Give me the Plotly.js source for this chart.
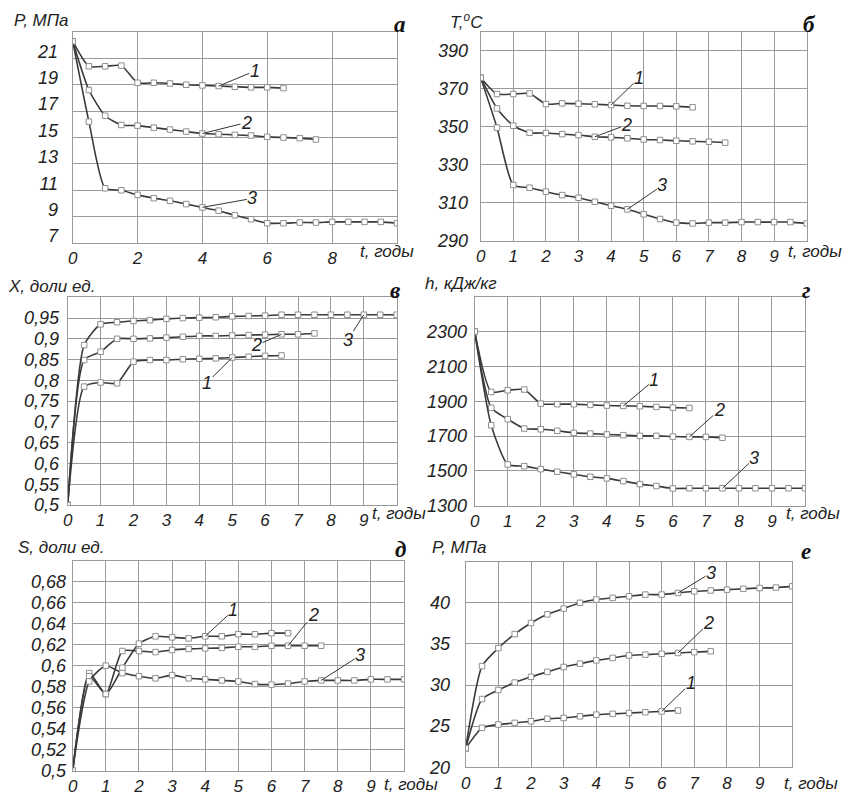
<!DOCTYPE html>
<html>
<head>
<meta charset="utf-8">
<script src="https://cdn.plot.ly/plotly-3.0.1.min.js"></script>
<style>html,body{margin:0;padding:0;background:#fff}#chart{width:848px;height:796px}</style>
</head>
<body>
<div id="chart"></div>
<script>
// ---- time axis (years) ----
const T = [0,0.5,1,1.5,2,2.5,3,3.5,4,4.5,5,5.5,6,6.5,7,7.5,8,8.5,9,9.5,10];

// ---- panel а : P, MPa ----
const a_P1 = [22.3,20.4,20.4,20.45,19.15,19.15,19.1,19.0,18.95,18.9,18.85,18.8,18.8,18.75];
const a_P2 = [22.3,18.6,16.65,15.95,15.9,15.75,15.6,15.45,15.3,15.25,15.2,15.15,15.05,15.0,14.95,14.85];
const a_P3 = [22.3,16.2,11.15,11.0,10.65,10.4,10.2,9.95,9.7,9.45,9.1,8.8,8.5,8.5,8.55,8.55,8.6,8.6,8.6,8.6,8.5];

// ---- panel б : T, °C ----
const b_T1 = [375.8,367.2,367.2,367.5,361.9,362.3,362.1,361.8,361.4,361.0,360.9,360.9,360.7,360.2];
const b_T2 = [375.8,359.6,350.5,346.8,346.7,346.1,345.6,344.7,344.4,343.9,343.3,343.0,342.6,342.3,342.1,341.6];
const b_T3 = [375.8,349.5,319.3,317.9,315.8,314.0,312.6,310.5,308.4,306.5,303.9,301.4,299.5,299.1,299.5,299.5,299.8,299.8,299.8,299.8,299.1];

// ---- panel в : X, fraction ----
const c_X1 = [0.5,0.785,0.795,0.793,0.845,0.849,0.849,0.851,0.852,0.853,0.855,0.857,0.859,0.86];
const c_X2 = [0.5,0.849,0.869,0.9,0.9,0.901,0.903,0.905,0.907,0.907,0.908,0.909,0.91,0.911,0.911,0.913];
const c_X3 = [0.5,0.885,0.935,0.94,0.943,0.945,0.948,0.95,0.951,0.952,0.954,0.955,0.956,0.958,0.958,0.958,0.958,0.958,0.958,0.958,0.958];

// ---- panel г : h, kJ/kg ----
const d_H1 = [2300,1953,1963,1967,1886,1883,1883,1879,1875,1873,1871,1867,1863,1861];
const d_H2 = [2300,1862,1797,1743,1739,1730,1718,1714,1709,1705,1701,1701,1697,1695,1695,1690];
const d_H3 = [2300,1762,1537,1527,1510,1495,1480,1466,1457,1441,1424,1413,1399,1400,1400,1400,1400,1400,1400,1400,1400];

// ---- panel д : S, fraction ----
const e_S1 = [0.5,0.593,0.573,0.598,0.621,0.628,0.627,0.626,0.628,0.628,0.63,0.63,0.631,0.631];
const e_S2 = [0.5,0.59,0.573,0.614,0.614,0.613,0.615,0.616,0.6165,0.617,0.618,0.618,0.619,0.619,0.619,0.619];
const e_S3 = [0.5,0.585,0.6,0.593,0.59,0.588,0.591,0.588,0.587,0.586,0.585,0.5825,0.582,0.583,0.585,0.586,0.586,0.586,0.587,0.587,0.587];

// ---- panel е : P, MPa ----
const f_P1 = [22.3,24.8,25.2,25.4,25.6,25.9,26.0,26.2,26.4,26.5,26.6,26.7,26.8,26.9];
const f_P2 = [22.3,28.3,29.4,30.3,31.0,31.6,32.2,32.6,33.0,33.3,33.6,33.7,33.8,33.9,34.0,34.1];
const f_P3 = [22.3,32.3,34.5,36.2,37.55,38.6,39.3,40.0,40.4,40.6,40.8,41.0,41.0,41.2,41.4,41.5,41.6,41.7,41.8,41.85,42.0];

// ---- tick labels ----
const a_yt = [7,9,11,13,15,17,19,21];
const b_yt = [290,310,330,350,370,390];
const c_yt = [0.5,0.55,0.6,0.65,0.7,0.75,0.8,0.85,0.9,0.95];
const c_ytxt = ["0,5","0,55","0,6","0,65","0,7","0,75","0,8","0,85","0,9","0,95"];
const d_yt = [1300,1500,1700,1900,2100,2300];
const e_yt = [0.5,0.52,0.54,0.56,0.58,0.6,0.62,0.64,0.66,0.68];
const e_ytxt = ["0,5","0,52","0,54","0,56","0,58","0,6","0,62","0,64","0,66","0,68"];
const f_yt = [20,25,30,35,40];
const xt_a = [0,2,4,6,8];
const xt = [0,1,2,3,4,5,6,7,8,9];

const W = 848, H = 796;
const px = x => x / W;
const py = y => 1 - y / H;

const LINE = '#3a3a3a', GRID = '#9a9a9a';
const FAM = 'Liberation Sans, Arial, sans-serif';
const YTF = {family:FAM, size:18, color:'#222', style:'italic'};
const XTF = {family:FAM, size:17, color:'#222', style:'italic'};

function series(xa, ya, x, y) {
  return {
    type:'scatter', mode:'lines+markers', xaxis:xa, yaxis:ya,
    x:x, y:y,
    line:{color:LINE, width:1.6, shape:'spline', smoothing:0.6},
    marker:{symbol:'square', size:5.5, color:'#fff', line:{color:'#8f8f8f', width:1}},
    showlegend:false, hoverinfo:'skip'
  };
}

const data = [
  series('x','y',T.slice(0,a_P1.length),a_P1),
  series('x','y',T.slice(0,a_P2.length),a_P2),
  series('x','y',T.slice(0,a_P3.length),a_P3),
  series('x2','y2',T.slice(0,b_T1.length),b_T1),
  series('x2','y2',T.slice(0,b_T2.length),b_T2),
  series('x2','y2',T.slice(0,b_T3.length),b_T3),
  series('x3','y3',T.slice(0,c_X1.length),c_X1),
  series('x3','y3',T.slice(0,c_X2.length),c_X2),
  series('x3','y3',T.slice(0,c_X3.length),c_X3),
  series('x4','y4',T.slice(0,d_H1.length),d_H1),
  series('x4','y4',T.slice(0,d_H2.length),d_H2),
  series('x4','y4',T.slice(0,d_H3.length),d_H3),
  series('x5','y5',T.slice(0,e_S1.length),e_S1),
  series('x5','y5',T.slice(0,e_S2.length),e_S2),
  series('x5','y5',T.slice(0,e_S3.length),e_S3),
  series('x6','y6',T.slice(0,f_P1.length),f_P1),
  series('x6','y6',T.slice(0,f_P2.length),f_P2),
  series('x6','y6',T.slice(0,f_P3.length),f_P3)
];

function xax(box, anchor, tv) {
  return {domain:[px(box[0]), px(box[1])], anchor:anchor, range:[0,10],
    tickvals:tv, ticktext:tv.map(String), showgrid:true, gridcolor:GRID, gridwidth:1,
    showline:true, linecolor:GRID, linewidth:1, mirror:true, zeroline:false,
    ticks:'', tickfont:XTF, ticklabelstandoff:0, fixedrange:true, automargin:false};
}
function yax(box, anchor, range, tv, tt, standoff) {
  return {domain:[py(box[3]), py(box[2])], anchor:anchor, range:range,
    tickvals:tv, ticktext:tt || tv.map(String), showgrid:true, gridcolor:GRID, gridwidth:1,
    showline:true, linecolor:GRID, linewidth:1, mirror:true, zeroline:false,
    ticks:'', tickfont:YTF, ticklabelstandoff:standoff, fixedrange:true, automargin:false};
}

// plot boxes [left, right, top, bottom] in pixels
const boxA = [72.7, 397, 32, 243];
const boxB = [480.7, 806.7, 31.7, 240.7];
const boxC = [67.7, 396.7, 297.3, 505];
const boxD = [474.7, 805, 296.7, 505.7];
const boxE = [72.7, 404, 560.7, 770.7];
const boxF = [465.7, 792.3, 561.7, 767.3];

const AF = {family:FAM, size:17, color:'#222', style:'italic'};
const LF = {family:'Liberation Serif, DejaVu Serif, serif', size:23, color:'#111', style:'italic', weight:'bold'};
const NF = {family:FAM, size:18, color:'#222', style:'italic'};
const TT = {family:FAM, size:17, color:'#222', style:'italic'};

function txt(x, y, text, font, xanchor) {
  return {xref:'paper', yref:'paper', x:px(x), y:py(y), text:text, showarrow:false,
    font:font, xanchor:xanchor || 'left', yanchor:'middle'};
}
function lab(xr, yr, xv, yv, text, ax, ay) {
  return {xref:xr, yref:yr, x:xv, y:yv, text:text, showarrow:true, arrowhead:0,
    arrowwidth:1, arrowcolor:'#333', ax:ax, ay:ay, font:NF, standoff:0, borderpad:0};
}

const annotations = [
  // axis names
  txt(12, 21, 'P, МПа', AF),
  txt(448, 21, 'T,<sup>o</sup>C', AF),
  txt(6, 286, 'X, доли ед.', AF),
  txt(423, 283, 'h, кДж/кг', AF),
  txt(16, 547, 'S, доли ед.', AF),
  txt(430, 547, 'P, МПа', AF),
  txt(358, 252, 't, годы', TT),
  txt(786, 252, 't, годы', TT),
  txt(370, 513, 't, годы', TT),
  txt(784, 513, 't, годы', TT),
  txt(382, 784, 't, годы', TT),
  txt(782, 783, 't, годы', TT),
  // panel letters
  txt(400, 24, 'а', LF, 'center'),
  txt(809, 24, 'б', LF, 'center'),
  txt(395, 290, 'в', LF, 'center'),
  txt(806, 290, 'г', LF, 'center'),
  txt(400, 549, 'д', LF, 'center'),
  txt(806, 551, 'е', LF, 'center'),
  // curve numbers
  lab('x','y', T[9], a_P1[9], '1', 36, -15),
  lab('x','y', T[8], a_P2[8], '2', 44, -11),
  lab('x','y', T[8], a_P3[8], '3', 50, -9),
  lab('x2','y2', T[8], b_T1[8], '1', 28, -27),
  lab('x2','y2', T[7], b_T2[7], '2', 32, -12),
  lab('x2','y2', T[9], b_T3[9], '3', 35, -24),
  lab('x3','y3', T[10], c_X1[10], '1', -25, 25),
  lab('x3','y3', T[13], c_X2[13], '2', -25, 11),
  lab('x3','y3', T[18], c_X3[18], '3', -16, 25),
  lab('x4','y4', T[9], d_H1[9], '1', 31, -26),
  lab('x4','y4', T[13], d_H2[13], '2', 30, -27),
  lab('x4','y4', T[15], d_H3[15], '3', 32, -30),
  lab('x5','y5', T[8], e_S1[8], '1', 28, -26),
  lab('x5','y5', T[13], e_S2[13], '2', 25, -31),
  lab('x5','y5', T[15], e_S3[15], '3', 39, -25),
  lab('x6','y6', T[12], f_P1[12], '1', 29, -28),
  lab('x6','y6', T[13], f_P2[13], '2', 31, -30),
  lab('x6','y6', T[13], f_P3[13], '3', 33, -20)
];

const layout = {
  width:W, height:H, margin:{l:0,r:0,t:0,b:0,pad:0},
  paper_bgcolor:'#fff', plot_bgcolor:'#fff', showlegend:false,
  xaxis: xax(boxA,'y',xt_a),
  yaxis: yax(boxA,'x',[7,23],a_yt,null,10),
  xaxis2: xax(boxB,'y2',xt),
  yaxis2: yax(boxB,'x2',[290,400],b_yt,null,8),
  xaxis3: xax(boxC,'y3',xt),
  yaxis3: yax(boxC,'x3',[0.5,1.0],c_yt,c_ytxt,4),
  xaxis4: xax(boxD,'y4',xt),
  yaxis4: yax(boxD,'x4',[1300,2500],d_yt,null,3),
  xaxis5: xax(boxE,'y5',xt),
  yaxis5: yax(boxE,'x5',[0.5,0.7],e_yt,e_ytxt,2),
  xaxis6: xax(boxF,'y6',xt),
  yaxis6: yax(boxF,'x6',[20,45],f_yt,null,11),
  annotations: annotations
};
layout.yaxis.ticklabelshift = -7;

Plotly.newPlot('chart', data, layout, {staticPlot:true, displayModeBar:false});
</script>
</body>
</html>
